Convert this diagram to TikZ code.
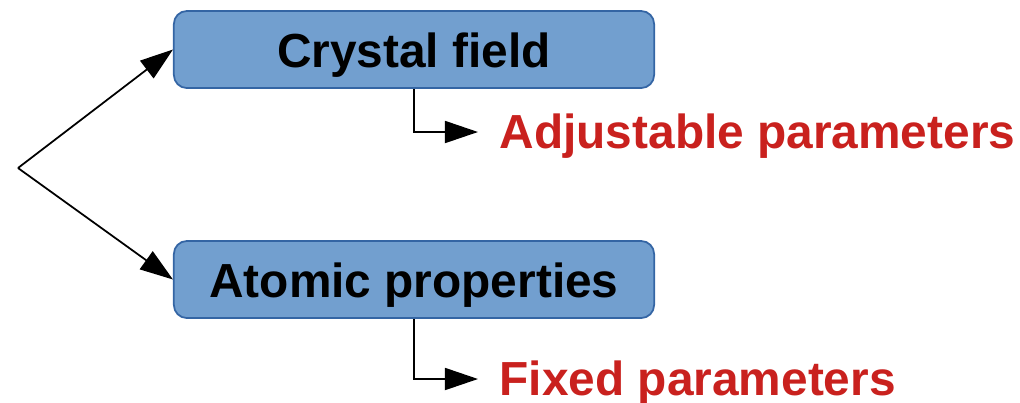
\documentclass[tikz,border=0pt]{standalone}
\usepackage{fontspec}
\setmainfont{Liberation Sans}
\usetikzlibrary{arrows.meta}
\definecolor{boxfill}{HTML}{729FCF}
\definecolor{boxline}{HTML}{3465A4}
\definecolor{parred}{HTML}{C9211E}
\tikzset{
  block/.style={draw=boxline,fill=boxfill,line width=0.5pt,rounded corners=0.13cm,
    minimum width=4.8cm,minimum height=0.77cm,inner sep=0pt,
    text height=0.35cm,text depth=0pt,font=\bfseries\fontsize{13.6pt}{16pt}\selectfont},
  param/.style={anchor=west,text=parred,inner xsep=0.21cm,inner ysep=0pt,
    text height=0.32cm,text depth=0pt,font=\bfseries\fontsize{13.6pt}{16pt}\selectfont},
  arr/.style={-{Triangle[length=0.33cm,width=0.22cm]},line width=0.5pt}
}
\begin{document}
\begin{tikzpicture}[x=0.01cm,y=-0.01cm]
  \useasboundingbox (0,0) rectangle (1020,402);
  \coordinate (split) at (18,168);
  \node[block] (crystal) at (414,49.5) {Crystal field};
  \node[block] (atomic) at (414,279.5) {Atomic properties};
  \node[param] (adjust) at (478,132) {Adjustable parameters};
  \node[param] (fixed) at (478,379) {Fixed parameters};
  % branches
  \draw[arr] (split) -- (crystal.west);
  \draw[arr] (split) -- (atomic.west);
  \draw[arr] (crystal.south) |- (adjust.west);
  \draw[arr] (atomic.south) |- (fixed.west);
\end{tikzpicture}
\end{document}
